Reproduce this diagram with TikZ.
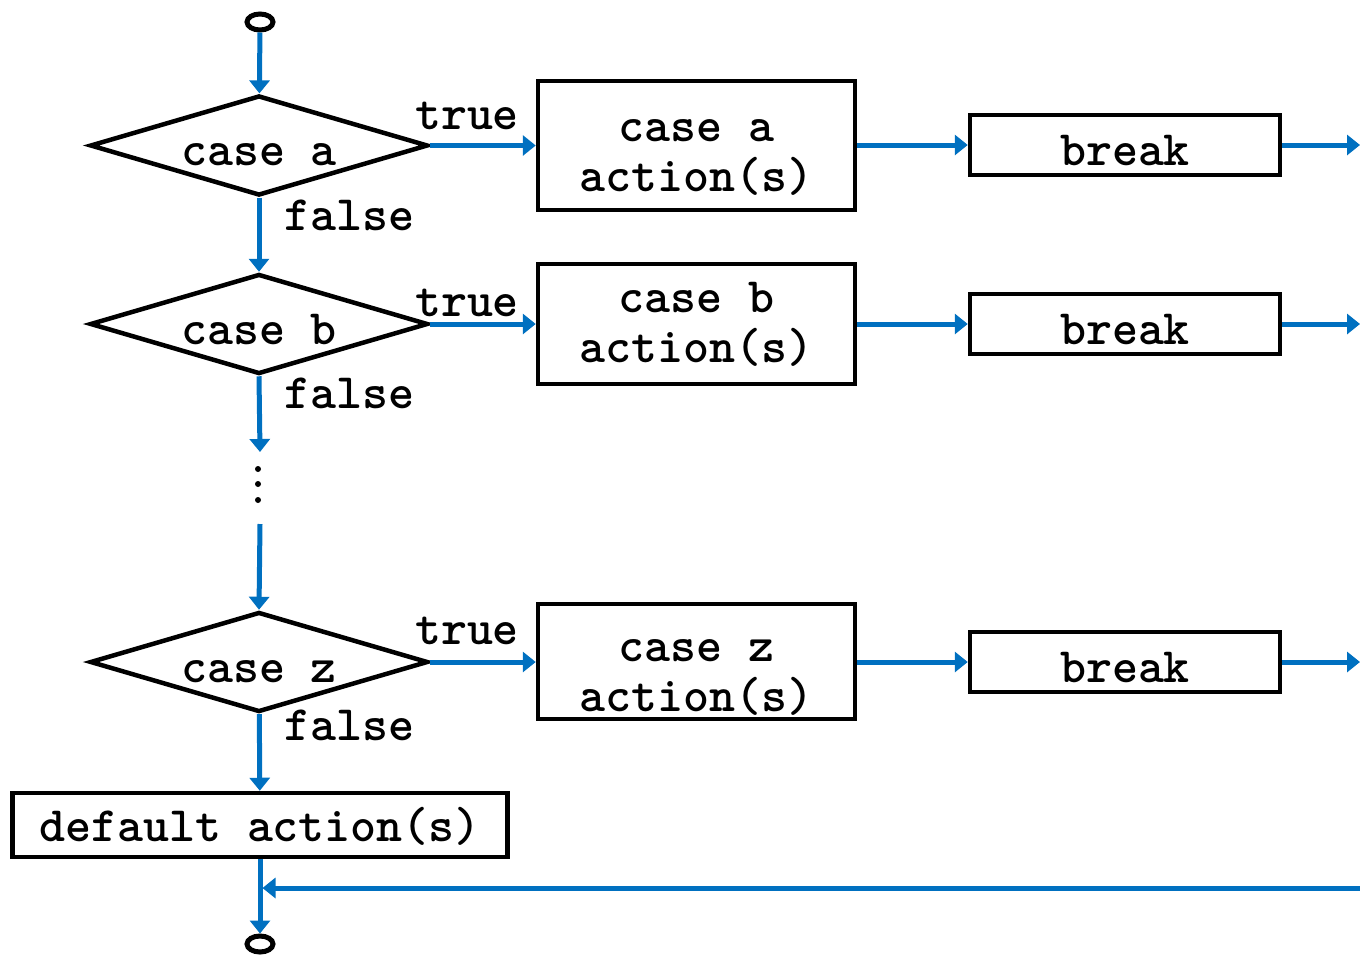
\documentclass[tikz,border=0pt]{standalone}
\usepackage{fontspec}
\usetikzlibrary{shapes.geometric,arrows.meta,calc}
\definecolor{flowblue}{RGB}{0,112,192}
\begin{document}
\begin{tikzpicture}[x=1pt,y=-1pt,
  txt/.style={font=\fontsize{49.5}{50}\selectfont\ttfamily\bfseries},
  decision/.style={diamond, draw, line width=4.5pt, aspect=3.4,
    minimum width=338pt, minimum height=100pt, inner sep=0pt, txt,
    text height=40pt, text depth=0pt},
  actionbox/.style={rectangle, draw, line width=4.5pt, minimum width=317pt,
    inner sep=0pt, align=center, txt},
  breakbox/.style={rectangle, draw, line width=4.5pt, minimum width=310pt,
    minimum height=60pt, inner sep=0pt, txt, text height=40pt, text depth=0pt},
  defaultbox/.style={rectangle, draw, line width=4.5pt, minimum width=495pt,
    minimum height=64pt, inner sep=0pt, txt, text height=32pt, text depth=0pt},
  terminal/.style={ellipse, draw, line width=5pt, minimum width=26pt,
    minimum height=16pt, inner sep=0pt},
  flow/.style={draw=flowblue, line width=5pt, -{Triangle[width=20pt,length=13pt]}},
  lbl/.style={txt, inner sep=0pt}]
\useasboundingbox (0,0) rectangle (1360,959);
% invisible rule setting the height of a box's first line
\newcommand{\leadstrut}[1]{\rule{0pt}{#1}}

% start and end terminals
\node[terminal] (start) at (260,22) {};
\node[terminal] (stop) at (260,944) {};

% decisions
\node[decision] (da) at (259,145.5) {case a};
\node[decision] (db) at (259,324) {case b};
\node[decision] (dz) at (259,662) {case z};

% case actions
\node[actionbox, minimum height=129pt] (ba) at (696.5,145.5) {\leadstrut{45pt}case a\\action(s)};
\node[actionbox, minimum height=120pt] (bb) at (696.5,324) {\leadstrut{30pt}case b\\action(s)};
\node[actionbox, minimum height=115pt] (bz) at (696.5,661.5) {\leadstrut{53pt}case z\\action(s)};

% break statements
\node[breakbox] (ka) at (1125,145) {break};
\node[breakbox] (kb) at (1125,324) {break};
\node[breakbox] (kz) at (1125,662) {break};

% default branch
\node[defaultbox] (dflt) at (260,825) {default action(s)};

% free ends
\coordinate (ea) at (1360,145);
\coordinate (eb) at (1360,324);
\coordinate (ez) at (1360,662);
\coordinate (ret) at (1360,888);
\coordinate (join) at (260,888);
\coordinate (gaptop) at (260,452);
\coordinate (gapbot) at (260,524);

% vertical flow
\draw[flow] (start) -- (da);
\draw[flow] (da) -- (db);
\draw[flow] (db.south) -- (gaptop);
\draw[flow] (gapbot) -- (dz.north);
\draw[flow] (dz) -- (dflt);
\draw[flow] (dflt.south) -- (stop.north);

% elided cases
\fill (258,469) circle (3pt) (258,484) circle (3pt) (258,500) circle (3pt);

% true branches
\draw[flow] (da.east) -- (da.east -| ba.west);
\draw[flow] (db.east) -- (db.east -| bb.west);
\draw[flow] (dz.east) -- (dz.east -| bz.west);
\draw[flow] (ba.east |- ka) -- (ka.west);
\draw[flow] (bb.east |- kb) -- (kb.west);
\draw[flow] (bz.east |- kz) -- (kz.west);
\draw[flow] (ka.east) -- (ea);
\draw[flow] (kb.east) -- (eb);
\draw[flow] (kz.east) -- (ez);
\draw[flow, shorten >=2.5pt] (ret) -- (join);

% branch labels
\node[lbl, anchor=base] (ta) at (467,129) {true};
\node[lbl, anchor=base] (tb) at (467,316) {true};
\node[lbl, anchor=base] (tz) at (467,644) {true};
\node[lbl, anchor=base west] (fa) at (284,230) {false};
\node[lbl, anchor=base west] (fb) at (284,408) {false};
\node[lbl, anchor=base west] (fz) at (284,740) {false};
\end{tikzpicture}
\end{document}
